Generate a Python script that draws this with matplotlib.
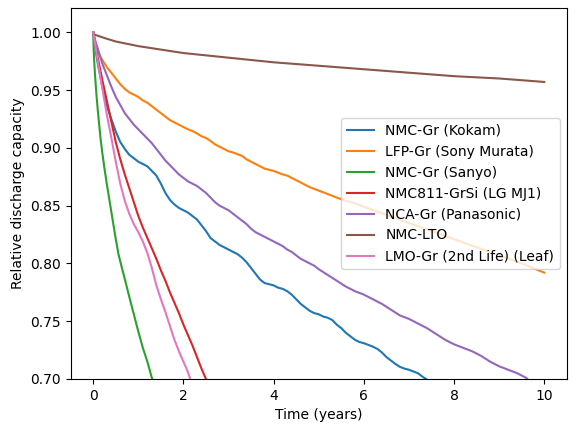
import matplotlib.pyplot as plt

# Dados (tempo em anos, capacidade relativa)
t_kokam = [0, 0.05, 0.1, 0.2, 0.3, 0.4, 0.5, 0.6, 0.7, 0.8, 0.9, 1.0, 1.1, 1.2, 1.3, 1.4,
           1.5, 1.6, 1.7, 1.8, 1.9, 2.0, 2.1, 2.2, 2.3, 2.4, 2.5, 2.6, 2.7, 2.8, 2.9, 3.0,
           3.1, 3.2, 3.3, 3.4, 3.5, 3.6, 3.7, 3.8, 3.9, 4.0, 4.1, 4.2, 4.3, 4.4, 4.5, 4.6,
           4.7, 4.8, 4.9, 5.0, 5.1, 5.2, 5.3, 5.4, 5.5, 5.6, 5.7, 5.8, 5.9, 6.0, 6.1, 6.2,
           6.3, 6.4, 6.5, 6.6, 6.7, 6.8, 6.9, 7.0, 7.1, 7.2, 7.3, 7.42]
c_kokam = [1.0, 0.985, 0.973, 0.953, 0.937, 0.925, 0.914, 0.905, 0.899, 0.894, 0.891,
           0.888, 0.886, 0.884, 0.880, 0.876, 0.869, 0.861, 0.855, 0.851, 0.848, 0.846,
           0.844, 0.841, 0.838, 0.833, 0.828, 0.822, 0.819, 0.816, 0.814, 0.812, 0.810,
           0.808, 0.805, 0.801, 0.796, 0.791, 0.786, 0.783, 0.782, 0.781, 0.779, 0.778,
           0.776, 0.773, 0.769, 0.765, 0.762, 0.759, 0.757, 0.756, 0.754, 0.753, 0.751,
           0.747, 0.744, 0.740, 0.737, 0.734, 0.732, 0.731, 0.7295, 0.728, 0.726, 0.723,
           0.719, 0.716, 0.713, 0.7105, 0.709, 0.708, 0.7065, 0.705, 0.702, 0.699]

t_lfp = [0, 0.05, 0.1, 0.2, 0.3, 0.4, 0.5, 0.6, 0.7, 0.8, 0.9, 1.0, 1.1, 1.2, 1.3, 1.4,
         1.5, 1.6, 1.7, 1.8, 1.9, 2.0, 2.1, 2.2, 2.3, 2.4, 2.5, 2.6, 2.7, 2.8, 2.9, 3.0,
         3.1, 3.2, 3.3, 3.4, 3.5, 3.6, 3.7, 3.8, 3.9, 4.0, 4.1, 4.2, 4.3, 4.4, 4.5, 4.6,
         4.7, 4.8, 4.9, 5.0, 5.2, 5.4, 5.6, 5.8, 6.0, 6.5, 7.0, 7.5, 8.0, 8.5, 9.0, 9.5,
         10.0]
c_lfp = [1.0, 0.99, 0.983, 0.976, 0.970, 0.965, 0.960, 0.955, 0.951, 0.948, 0.946, 0.944,
         0.941, 0.939, 0.936, 0.933, 0.930, 0.927, 0.924, 0.922, 0.920, 0.918, 0.916,
         0.9145, 0.9125, 0.910, 0.9085, 0.906, 0.903, 0.901, 0.899, 0.897, 0.896, 0.8945,
         0.893, 0.890, 0.888, 0.886, 0.884, 0.882, 0.881, 0.880, 0.8785, 0.877, 0.876,
         0.874, 0.872, 0.870, 0.868, 0.866, 0.8645, 0.863, 0.860, 0.857, 0.854, 0.852,
         0.849, 0.842, 0.835, 0.828, 0.821, 0.814, 0.807, 0.800, 0.792]

t_sanyo = [0, 0.01, 0.02, 0.04, 0.06, 0.08, 0.1, 0.13, 0.16, 0.2, 0.25, 0.3, 0.35, 0.4,
           0.45, 0.5, 0.56, 0.63, 0.71, 0.8, 0.9, 1.0, 1.1, 1.2, 1.3, 1.32]
c_sanyo = [1.0, 0.985, 0.976, 0.963, 0.952, 0.942, 0.933, 0.921, 0.909, 0.896, 0.882,
           0.869, 0.857, 0.845, 0.833, 0.821, 0.808, 0.797, 0.785, 0.771, 0.756, 0.741,
           0.727, 0.715, 0.701, 0.699]

t_lgmj1 = [0, 0.1, 0.2, 0.3, 0.4, 0.5, 0.6, 0.7, 0.8, 0.9, 1.0, 1.1, 1.2, 1.3, 1.4, 1.5,
           1.6, 1.7, 1.8, 1.9, 2.0, 2.1, 2.2, 2.3, 2.4, 2.5, 2.52]
c_lgmj1 = [1.0, 0.978, 0.959, 0.941, 0.923, 0.905, 0.890, 0.877, 0.865, 0.853, 0.841,
           0.831, 0.822, 0.813, 0.804, 0.794, 0.785, 0.775, 0.766, 0.757, 0.747, 0.738,
           0.729, 0.719, 0.709, 0.700, 0.698]

t_nca = [0, 0.05, 0.1, 0.2, 0.3, 0.4, 0.5, 0.6, 0.7, 0.8, 0.9, 1.0, 1.1, 1.2, 1.3, 1.4,
         1.5, 1.6, 1.7, 1.8, 1.9, 2.0, 2.1, 2.2, 2.3, 2.4, 2.5, 2.6, 2.7, 2.8, 2.9, 3.0,
         3.1, 3.2, 3.3, 3.4, 3.5, 3.6, 3.7, 3.8, 3.9, 4.0, 4.1, 4.2, 4.3, 4.4, 4.5, 4.6,
         4.7, 4.8, 4.9, 5.0, 5.2, 5.4, 5.6, 5.8, 6.0, 6.2, 6.4, 6.6, 6.8, 7.0, 7.2, 7.4,
         7.6, 7.8, 8.0, 8.2, 8.4, 8.6, 8.8, 9.0, 9.2, 9.4, 9.6, 9.65]
c_nca = [1.0, 0.992, 0.986, 0.973, 0.963, 0.953, 0.944, 0.937, 0.930, 0.925, 0.920,
         0.916, 0.912, 0.908, 0.904, 0.899, 0.894, 0.889, 0.885, 0.881, 0.877, 0.874,
         0.871, 0.869, 0.867, 0.864, 0.861, 0.857, 0.853, 0.850, 0.848, 0.846, 0.843,
         0.840, 0.837, 0.834, 0.830, 0.827, 0.825, 0.823, 0.821, 0.819, 0.817, 0.815,
         0.812, 0.810, 0.807, 0.804, 0.802, 0.800, 0.798, 0.795, 0.790, 0.785, 0.780,
         0.776, 0.773, 0.769, 0.765, 0.760, 0.755, 0.752, 0.748, 0.744, 0.739, 0.734,
         0.730, 0.727, 0.724, 0.720, 0.715, 0.711, 0.708, 0.705, 0.701, 0.699]

t_lto = [0, 0.02, 0.1, 0.25, 0.5, 0.75, 1, 1.5, 2, 3, 4, 5, 6, 7, 8, 9, 10]
c_lto = [1.0, 0.998, 0.997, 0.995, 0.992, 0.990, 0.988, 0.985, 0.982, 0.978, 0.974,
         0.971, 0.968, 0.965, 0.962, 0.960, 0.957]

t_leaf = [0, 0.1, 0.2, 0.3, 0.4, 0.5, 0.6, 0.7, 0.8, 0.9, 1.0, 1.1, 1.2, 1.3, 1.4, 1.5,
          1.6, 1.7, 1.8, 1.9, 2.0, 2.1, 2.16]
c_leaf = [1.0, 0.975, 0.952, 0.929, 0.909, 0.888, 0.869, 0.854, 0.843, 0.834, 0.827,
          0.819, 0.809, 0.796, 0.781, 0.769, 0.758, 0.746, 0.734, 0.724, 0.715, 0.706,
          0.699]

series = [
    ('NMC-Gr (Kokam)', t_kokam, c_kokam),
    ('LFP-Gr (Sony Murata)', t_lfp, c_lfp),
    ('NMC-Gr (Sanyo)', t_sanyo, c_sanyo),
    ('NMC811-GrSi (LG MJ1)', t_lgmj1, c_lgmj1),
    ('NCA-Gr (Panasonic)', t_nca, c_nca),
    ('NMC-LTO', t_lto, c_lto),
    ('LMO-Gr (2nd Life) (Leaf)', t_leaf, c_leaf),
]

fig, ax = plt.subplots(figsize=(5.76, 4.32), dpi=100)
fig.subplots_adjust(left=0.1227, right=0.984, bottom=0.1227, top=0.981)

for nome, t, c in series:
    ax.plot(t, c, label=nome)

ax.set_xlim(-0.5, 10.5)
ax.set_ylim(0.7, 1.0208)
ax.set_xlabel('Time (years)')
ax.set_ylabel('Relative discharge capacity')
ax.legend(loc='center right')

fig.savefig('out.png', dpi=100)
